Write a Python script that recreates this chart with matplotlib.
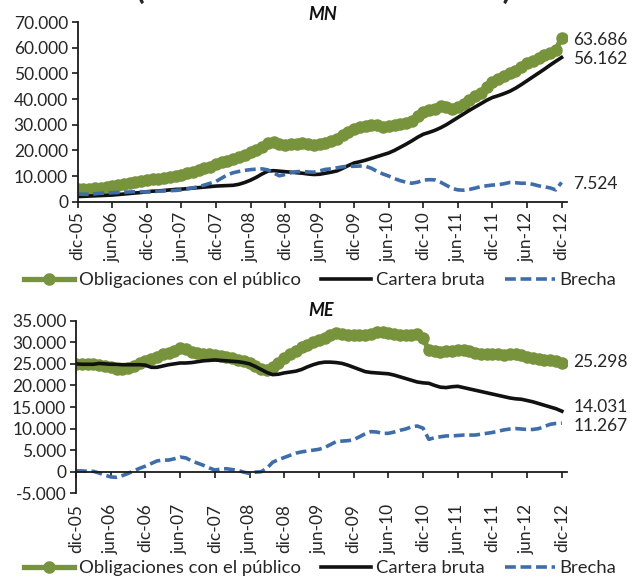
import numpy as np
import matplotlib
matplotlib.use("Agg")
import matplotlib.pyplot as plt
from matplotlib.ticker import FuncFormatter, MultipleLocator

plt.rcParams["font.family"] = ["Lato", "DejaVu Sans"]
plt.rcParams["font.size"] = 12

# etiquetas del eje x (cada 6 meses, dic-05 a dic-12)
etiquetas = ["dic-05", "jun-06", "dic-06", "jun-07", "dic-07", "jun-08", "dic-08",
             "jun-09", "dic-09", "jun-10", "dic-10", "jun-11", "dic-11", "jun-12", "dic-12"]

# MN, en miles de millones (mensual dic-05 .. dic-12)
mn_obligaciones = [
    4.8, 4.9, 5.0, 5.2, 5.5, 5.8, 6.1, 6.4, 6.8, 7.1, 7.5, 7.9,
    8.5, 8.7, 9.0, 9.4, 9.7, 10.1, 10.5, 11.0, 11.6, 12.3, 13.0, 13.7,
    14.5, 15.3, 16.0, 16.8, 17.5, 18.3, 19.2, 20.3, 21.5, 23.0, 23.3, 22.3,
    21.9, 22.4, 22.6, 22.7, 22.5, 22.0, 22.3, 22.8, 23.6, 24.5, 25.8, 27.0,
    28.2, 29.0, 29.6, 30.0, 29.7, 29.2, 29.4, 29.8, 30.2, 30.7, 31.5, 33.5,
    35.0, 35.6, 36.2, 37.2, 37.0, 36.3, 36.8, 38.0, 39.5, 41.0, 42.5, 44.5,
    46.5, 47.8, 48.8, 50.0, 51.0, 52.5, 54.0, 55.0, 55.8, 57.0, 58.0, 59.2,
    63.686]
mn_cartera = [
    2.0, 2.1, 2.2, 2.3, 2.4, 2.5, 2.6, 2.8, 3.0, 3.2, 3.4, 3.6,
    3.9, 4.1, 4.2, 4.4, 4.6, 4.8, 4.9, 5.1, 5.3, 5.5, 5.7, 5.9,
    6.1, 6.2, 6.3, 6.4, 6.8, 7.5, 8.4, 9.5, 10.8, 11.9, 12.1, 11.9,
    11.7, 11.5, 11.3, 11.1, 10.8, 10.6, 10.7, 11.1, 11.5, 12.0, 13.0, 14.1,
    15.1, 15.6, 16.2, 16.9, 17.6, 18.3, 19.0, 20.0, 21.2, 22.4, 23.7, 25.1,
    26.3, 27.0, 27.8, 28.8, 30.0, 31.4, 32.8, 34.2, 35.6, 36.9, 38.2, 39.5,
    40.6, 41.3, 42.1, 43.0, 44.2, 45.6, 47.1, 48.6, 50.1, 51.6, 53.2, 54.7,
    56.162]
mn_brecha = [
    3.0, 2.9, 2.9, 3.1, 3.3, 3.4, 3.5, 3.6, 3.7, 3.8, 3.9, 3.9,
    3.8, 3.9, 4.1, 4.2, 4.3, 4.4, 4.6, 5.0, 5.4, 5.9, 6.5, 7.2,
    7.9, 9.2, 10.5, 11.3, 11.8, 12.2, 12.5, 12.7, 12.8, 12.4, 11.2, 10.1,
    10.6, 11.3, 11.7, 11.8, 11.6, 11.5, 12.0, 12.6, 12.8, 13.2, 13.6, 13.8,
    13.8, 13.9, 13.8, 13.0, 11.8, 10.8, 10.0, 9.0, 8.2, 7.6, 7.2, 7.6,
    8.4, 8.6, 8.5, 7.6, 6.4, 5.2, 4.6, 4.5, 4.8, 5.3, 5.9, 6.2,
    6.5, 6.6, 7.0, 7.5, 7.4, 7.2, 7.2, 6.8, 6.2, 5.8, 5.4, 4.6,
    7.524]

# ME, en miles de millones
me_obligaciones = [
    25.0, 25.0, 25.0, 24.9, 24.8, 24.6, 24.2, 23.8, 23.8, 24.1, 24.5, 25.1,
    25.7, 26.2, 26.7, 27.2, 27.5, 28.0, 28.6, 28.4, 27.8, 27.6, 27.4, 27.2,
    27.0, 26.8, 26.6, 26.3, 26.0, 25.6, 25.1, 24.5, 23.8, 23.6, 24.2, 25.2,
    26.3, 27.2, 28.0, 28.8, 29.4, 30.0, 30.5, 31.0, 31.6, 32.1, 32.0, 31.7,
    31.6, 31.7, 31.8, 32.0, 32.3, 32.4, 32.1, 31.9, 31.7, 31.6, 31.7, 31.9,
    31.0, 28.1, 27.9, 27.8, 27.9, 28.0, 28.2, 28.3, 27.9, 27.5, 27.4, 27.4,
    27.4, 27.2, 27.0, 27.2, 27.4, 27.0, 26.6, 26.3, 26.1, 26.0, 25.8, 25.6,
    25.298]
me_cartera = [
    25.0, 24.9, 24.9, 24.9, 25.1, 25.0, 24.9, 24.9, 24.8, 24.8, 24.8, 24.8,
    24.7, 24.2, 24.2, 24.5, 24.8, 25.0, 25.2, 25.2, 25.3, 25.5, 25.7, 25.8,
    25.9, 25.8, 25.7, 25.6, 25.5, 25.3, 25.0, 24.4, 23.7, 23.0, 22.5, 22.6,
    22.9, 23.1, 23.3, 23.7, 24.3, 24.8, 25.2, 25.4, 25.4, 25.3, 25.1, 24.7,
    24.2, 23.7, 23.2, 23.0, 22.9, 22.8, 22.7, 22.4, 22.0, 21.6, 21.2, 20.8,
    20.6, 20.5, 20.0, 19.6, 19.5, 19.7, 19.8, 19.5, 19.2, 18.9, 18.6, 18.3,
    18.0, 17.7, 17.4, 17.1, 16.9, 16.8, 16.5, 16.2, 15.8, 15.4, 15.0, 14.6,
    14.031]
me_brecha = [
    0.2, 0.2, 0.1, 0.1, -0.3, -0.8, -1.2, -1.3, -0.9, -0.4, 0.2, 0.8,
    1.3, 1.9, 2.5, 2.7, 2.7, 3.0, 3.4, 3.2, 2.5, 2.0, 1.5, 0.9,
    0.4, 0.6, 0.7, 0.5, 0.3, -0.1, -0.4, -0.1, 0.0, 0.8, 2.2, 2.8,
    3.3, 3.8, 4.3, 4.6, 4.8, 5.0, 5.2, 5.6, 6.3, 7.0, 7.1, 7.2,
    7.4, 8.1, 8.8, 9.3, 9.2, 8.9, 8.9, 9.2, 9.6, 9.9, 10.4, 10.6,
    10.1, 7.5, 7.9, 8.1, 8.3, 8.3, 8.4, 8.5, 8.5, 8.5, 8.7, 8.9,
    9.1, 9.4, 9.7, 9.9, 10.0, 9.9, 9.8, 9.8, 10.0, 10.5, 11.0, 11.2,
    11.267]

GREEN = "#77933C"
BLACK = "#111111"
BLUE = "#3F6DAA"
TXT = "#262626"


def miles(v, pos):
    return f"{v:,.0f}".replace(",", ".")


def panel(ax, oblig, cartera, brecha, ylim, step, title, title_y, label_y, x_at_zero=False):
    x = np.arange(len(oblig))
    ob = np.array(oblig) * 1000
    ca = np.array(cartera) * 1000
    br = np.array(brecha) * 1000
    ax.plot(x, ob, color=GREEN, lw=3.8, marker="o", ms=8, mec=GREEN, mfc=GREEN,
            label="Obligaciones con el público")
    ax.plot(x, ca, color=BLACK, lw=2.6, label="Cartera bruta")
    ax.plot(x, br, color=BLUE, lw=2.6, dashes=(3, 1.3), label="Brecha")

    for s in ["top", "right"]:
        ax.spines[s].set_visible(False)
    if x_at_zero:
        ax.spines["bottom"].set_position(("data", 0))
    for s in ["left", "bottom"]:
        ax.spines[s].set_linewidth(1.3)
        ax.spines[s].set_color("#1a1a1a")

    ax.set_xlim(0, 84.9)
    ax.set_ylim(*ylim)
    ax.yaxis.set_major_locator(MultipleLocator(step))
    ax.yaxis.set_major_formatter(FuncFormatter(miles))
    ax.set_xticks(np.arange(0, len(oblig), 6))
    ax.set_xticklabels(etiquetas, rotation=90)

    ax.tick_params(axis="both", direction="out", length=4, width=1.2,
                   color="#1a1a1a", labelcolor=TXT, labelsize=12.5)
    ax.tick_params(axis="y", pad=3)

    ax.text(0.5, title_y, title, transform=ax.transAxes, ha="center", va="center",
            fontsize=13, fontweight="bold", style="italic", color="#111111")

    vals = [ob[-1], ca[-1], br[-1]]
    for v, yy in zip(vals, label_y):
        ax.text(86.0, yy, miles(v, None), ha="left", va="center",
                fontsize=12.5, color=TXT, clip_on=False)


fig = plt.figure(figsize=(6.34, 5.79), dpi=100)

ax1 = fig.add_axes([0.1226, 0.6516, 0.7713, 0.3104])
panel(ax1, mn_obligaciones, mn_cartera, mn_brecha, (0, 70000), 10000, "MN", 1.039,
      [62900, 55500, 7000])
ax1.tick_params(axis="x", pad=3)

ax2 = fig.add_axes([0.1199, 0.148, 0.7745, 0.2981])
panel(ax2, me_obligaciones, me_cartera, me_brecha, (-5000, 35000), 5000, "ME", 1.062,
      [25400, 15100, 10600], x_at_zero=True)
ax2.tick_params(axis="x", pad=19)

for ax, y in [(ax1, 0.516), (ax2, 0.019)]:
    ax.legend(loc="center", bbox_to_anchor=(0.505, y), bbox_transform=fig.transFigure,
              ncol=3, frameon=False, handlelength=2.7, handletextpad=0.25,
              columnspacing=1.1, fontsize=13.3, labelcolor=TXT)

# titulo general (recortado en el original)
fig.text(0.51, 1.0 + 1.0 / 579, "(En millones de bolivianos)", ha="center", va="baseline",
         fontsize=23, fontweight="bold", color=TXT)

fig.savefig("out.png", dpi=100)
